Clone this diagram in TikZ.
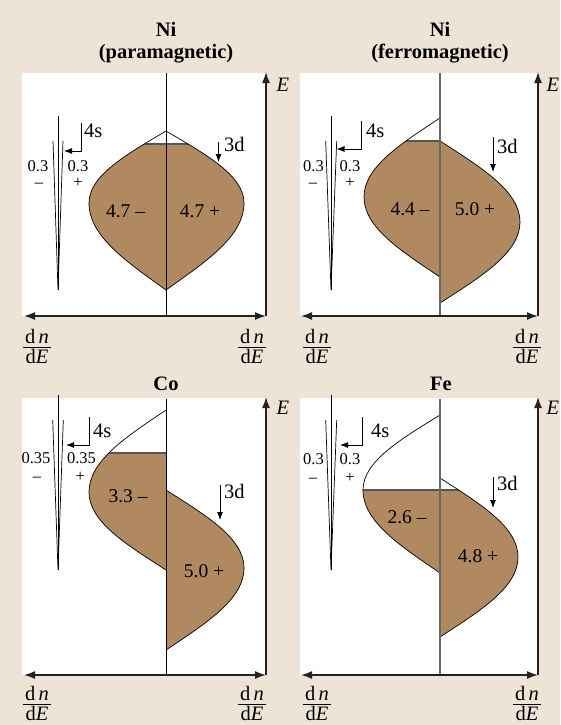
\documentclass[tikz,border=0pt]{standalone}
\usepackage{fontspec}
\setmainfont{Liberation Serif}
\usetikzlibrary{arrows.meta}
\definecolor{beige}{RGB}{237,227,215}
\definecolor{bandc}{RGB}{176,137,96}
\definecolor{fillgray}{RGB}{85,85,85}
\definecolor{midgray}{RGB}{105,105,105}
\definecolor{axisc}{RGB}{35,35,35}
% half band: centre x, top y, y of widest point, bottom y, signed half width
\newcommand{\bandp}[5]{(#1,#2) .. controls ({#1+0.52*(#5)},{#2+0.33*(#3-#2)}) and ({#1+(#5)},{#2+0.62*(#3-#2)}) .. ({#1+(#5)},#3) .. controls ({#1+(#5)},{#3+0.38*(#4-#3)}) and ({#1+0.52*(#5)},{#3+0.67*(#4-#3)}) .. (#1,#4)}
% dn/dE fraction: name, centre x, y of fraction bar
\newcommand{\dnde}[3]{%
  \node[fracl] (#1n) at (#2,{#3-4}) {d\,\textit{n}};
  \draw[fracbar] ({#2-14},#3) -- ({#2+14},#3);
  \node[fracl] (#1d) at (#2,{#3+16}) {d\textit{E}};}
\begin{document}
\begin{tikzpicture}[x=1pt,y=-1pt,
  panel/.style={fill=white},
  axisone/.style={draw=axisc,line width=1.5pt,-{Latex[length=11pt,width=8pt]}},
  axistwo/.style={draw=axisc,line width=1.5pt,{Latex[length=11pt,width=8pt]}-{Latex[length=11pt,width=8pt]}},
  outline/.style={draw=black,line width=0.7pt},
  fermi/.style={draw=fillgray,line width=2pt},
  midthin/.style={draw=black,line width=0.8pt},
  midthick/.style={draw=midgray,line width=1.6pt},
  sline/.style={draw=black,line width=0.7pt},
  fracbar/.style={draw=black,line width=0.8pt},
  lblarrow/.style={draw=black,line width=0.9pt,-{Latex[length=8pt,width=6pt]}},
  title/.style={font=\fontsize{20.5}{24}\selectfont\bfseries,inner sep=0pt,anchor=base},
  num/.style={font=\fontsize{19.5}{22}\selectfont,inner sep=0pt,anchor=base},
  small/.style={font=\fontsize{16.5}{18}\selectfont,inner sep=0pt,anchor=base},
  lbl/.style={font=\fontsize{20.5}{22}\selectfont,inner sep=0pt,anchor=base west},
  elbl/.style={font=\fontsize{20.5}{22}\selectfont\itshape,inner sep=0pt},
  fracl/.style={font=\fontsize{20.5}{22}\selectfont,inner sep=0pt,anchor=base},
]
\useasboundingbox (0,0) rectangle (560,725);
\fill[beige] (0,0) rectangle (560,725);

% ================= panel 1 : Ni paramagnetic
\fill[panel] (22,73) rectangle (266,316);
\begin{scope}\clip \bandp{166}{131}{203}{290}{-77} -- cycle;
  \fill[bandc] (0,144) rectangle (560,725); \draw[fermi] (0,144) -- (560,144);\end{scope}
\begin{scope}\clip \bandp{166}{131}{203}{290}{78} -- cycle;
  \fill[bandc] (0,144) rectangle (560,725); \draw[fermi] (0,144) -- (560,144);\end{scope}
\draw[outline] \bandp{166}{131}{203}{290}{-77};
\draw[outline] \bandp{166}{131}{203}{290}{78};
\draw[midthin] (166,73) -- (166,316);
\draw[sline] (53,141) -- (58,290) -- (63,141);
\draw[sline] (58,116) -- (58,290);
\draw[lblarrow] (81,123) -- (81,151) -- (64,151);
\draw[lblarrow] (218.5,142) -- (218.5,162);
\draw[axistwo] (24,316) -- (266,316);
\draw[axisone] (266,316) -- (266,72);
\node[title] (t1a) at (166,37) {Ni};
\node[title] (t1b) at (166,59) {(paramagnetic)};
\node[elbl] (e1) at (283,85) {E};
\dnde{f1l}{37}{347}
\dnde{f1r}{252}{347}
\node[lbl] (s1) at (84,137) {4s};
\node[lbl] (d1) at (224,151) {3d};
\node[small] (a1) at (38,171) {0.3};
\node[small] (b1) at (39,187) {--};
\node[small] (c1) at (78,171) {0.3};
\node[small] (g1) at (78,187) {+};
\node[num] (m1) at (125.5,217) {4.7 --};
\node[num] (p1) at (200,217) {4.7 +};

% ================= panel 2 : Ni ferromagnetic
\fill[panel] (300,73) rectangle (538,316);
\begin{scope}\clip \bandp{440}{118}{197}{277}{-76} -- cycle;
  \fill[bandc] (0,141) rectangle (560,725); \draw[fermi] (0,141) -- (560,141);\end{scope}
\begin{scope}\clip \bandp{440}{141}{222}{303}{80} -- cycle;
  \fill[bandc] (0,141) rectangle (560,725);\end{scope}
\draw[outline] \bandp{440}{118}{197}{277}{-76};
\draw[outline] \bandp{440}{141}{222}{303}{80};
\draw[midthick] (440,73) -- (440,316);
\draw[sline] (325.7,141) -- (331,290) -- (336.7,141);
\draw[sline] (331,116) -- (331,290);
\draw[lblarrow] (361,121) -- (361,149) -- (336.5,149);
\draw[lblarrow] (493,137) -- (493,172);
\draw[axistwo] (301,316) -- (538,316);
\draw[axisone] (538,316) -- (538,72);
\node[title] (t2a) at (440,37) {Ni};
\node[title] (t2b) at (440,59) {(ferromagnetic)};
\node[elbl] (e2) at (553,85) {E};
\dnde{f2l}{317}{347}
\dnde{f2r}{527}{347}
\node[lbl] (s2) at (366,137) {4s};
\node[lbl] (d2) at (497,153) {3d};
\node[small] (a2) at (313.5,171) {0.3};
\node[small] (b2) at (313,187) {--};
\node[small] (c2) at (350,171) {0.3};
\node[small] (g2) at (350,187) {+};
\node[num] (m2) at (410,215) {4.4 --};
\node[num] (p2) at (475,215) {5.0 +};

% ================= panel 3 : Co
\fill[panel] (22,398) rectangle (266,675);
\begin{scope}\clip \bandp{166}{410}{492}{570}{-77} -- cycle;
  \fill[bandc] (0,453) rectangle (560,725); \draw[fermi] (0,453) -- (560,453);\end{scope}
\begin{scope}\clip \bandp{166}{490}{568}{650}{78} -- cycle;
  \fill[bandc] (0,453) rectangle (560,725);\end{scope}
\draw[outline] \bandp{166}{410}{492}{570}{-77};
\draw[outline] \bandp{166}{490}{568}{650}{78};
\draw[midthin] (166,399) -- (166,675);
\draw[sline] (52.7,420) -- (58,570) -- (63.3,420);
\draw[sline] (58,395) -- (58,570);
\draw[lblarrow] (89,417) -- (89,445) -- (66,445);
\draw[lblarrow] (220,485) -- (220,520);
\draw[axistwo] (24,675) -- (266,675);
\draw[axisone] (266,675) -- (266,397);
\node[title] (t3) at (166,390) {Co};
\node[elbl] (e3) at (283,408) {E};
\dnde{f3l}{37}{704}
\dnde{f3r}{252}{704}
\node[lbl] (s3) at (93,437) {4s};
\node[lbl] (d3) at (224,498) {3d};
\node[small] (a3) at (36,463) {0.35};
\node[small] (b3) at (37,481) {--};
\node[small] (c3) at (81.5,463) {0.35};
\node[small] (g3) at (80.3,481) {+};
\node[num] (m3) at (128,502) {3.3 --};
\node[num] (p3) at (204,577) {5.0 +};

% ================= panel 4 : Fe
\fill[panel] (300,398) rectangle (538,675);
\begin{scope}\clip \bandp{440}{415}{490}{573}{-77} -- cycle;
  \fill[bandc] (0,490) rectangle (560,725); \draw[fermi] (0,490) -- (560,490);\end{scope}
\begin{scope}\clip \bandp{440}{478}{557}{637}{78} -- cycle;
  \fill[bandc] (0,490) rectangle (560,725); \draw[fermi] (0,490) -- (560,490);\end{scope}
\draw[outline] \bandp{440}{415}{490}{573}{-77};
\draw[outline] \bandp{440}{478}{557}{637}{78};
\draw[midthick] (440,399) -- (440,675);
\draw[sline] (325.7,420) -- (331,570) -- (336.7,420);
\draw[sline] (331,395) -- (331,570);
\draw[lblarrow] (362,417) -- (362,445) -- (340,445);
\draw[lblarrow] (493,477) -- (493,508);
\draw[axistwo] (301,675) -- (538,675);
\draw[axisone] (538,675) -- (538,397);
\node[title] (t4) at (441,390) {Fe};
\node[elbl] (e4) at (553,408) {E};
\dnde{f4l}{317}{704}
\dnde{f4r}{527}{704}
\node[lbl] (s4) at (371,437) {4s};
\node[lbl] (d4) at (497,490) {3d};
\node[small] (a4) at (313.5,464) {0.3};
\node[small] (b4) at (313,482) {--};
\node[small] (c4) at (350,464) {0.3};
\node[small] (g4) at (350,482) {+};
\node[num] (m4) at (407,523) {2.6 --};
\node[num] (p4) at (478,562) {4.8 +};
\end{tikzpicture}
\end{document}
